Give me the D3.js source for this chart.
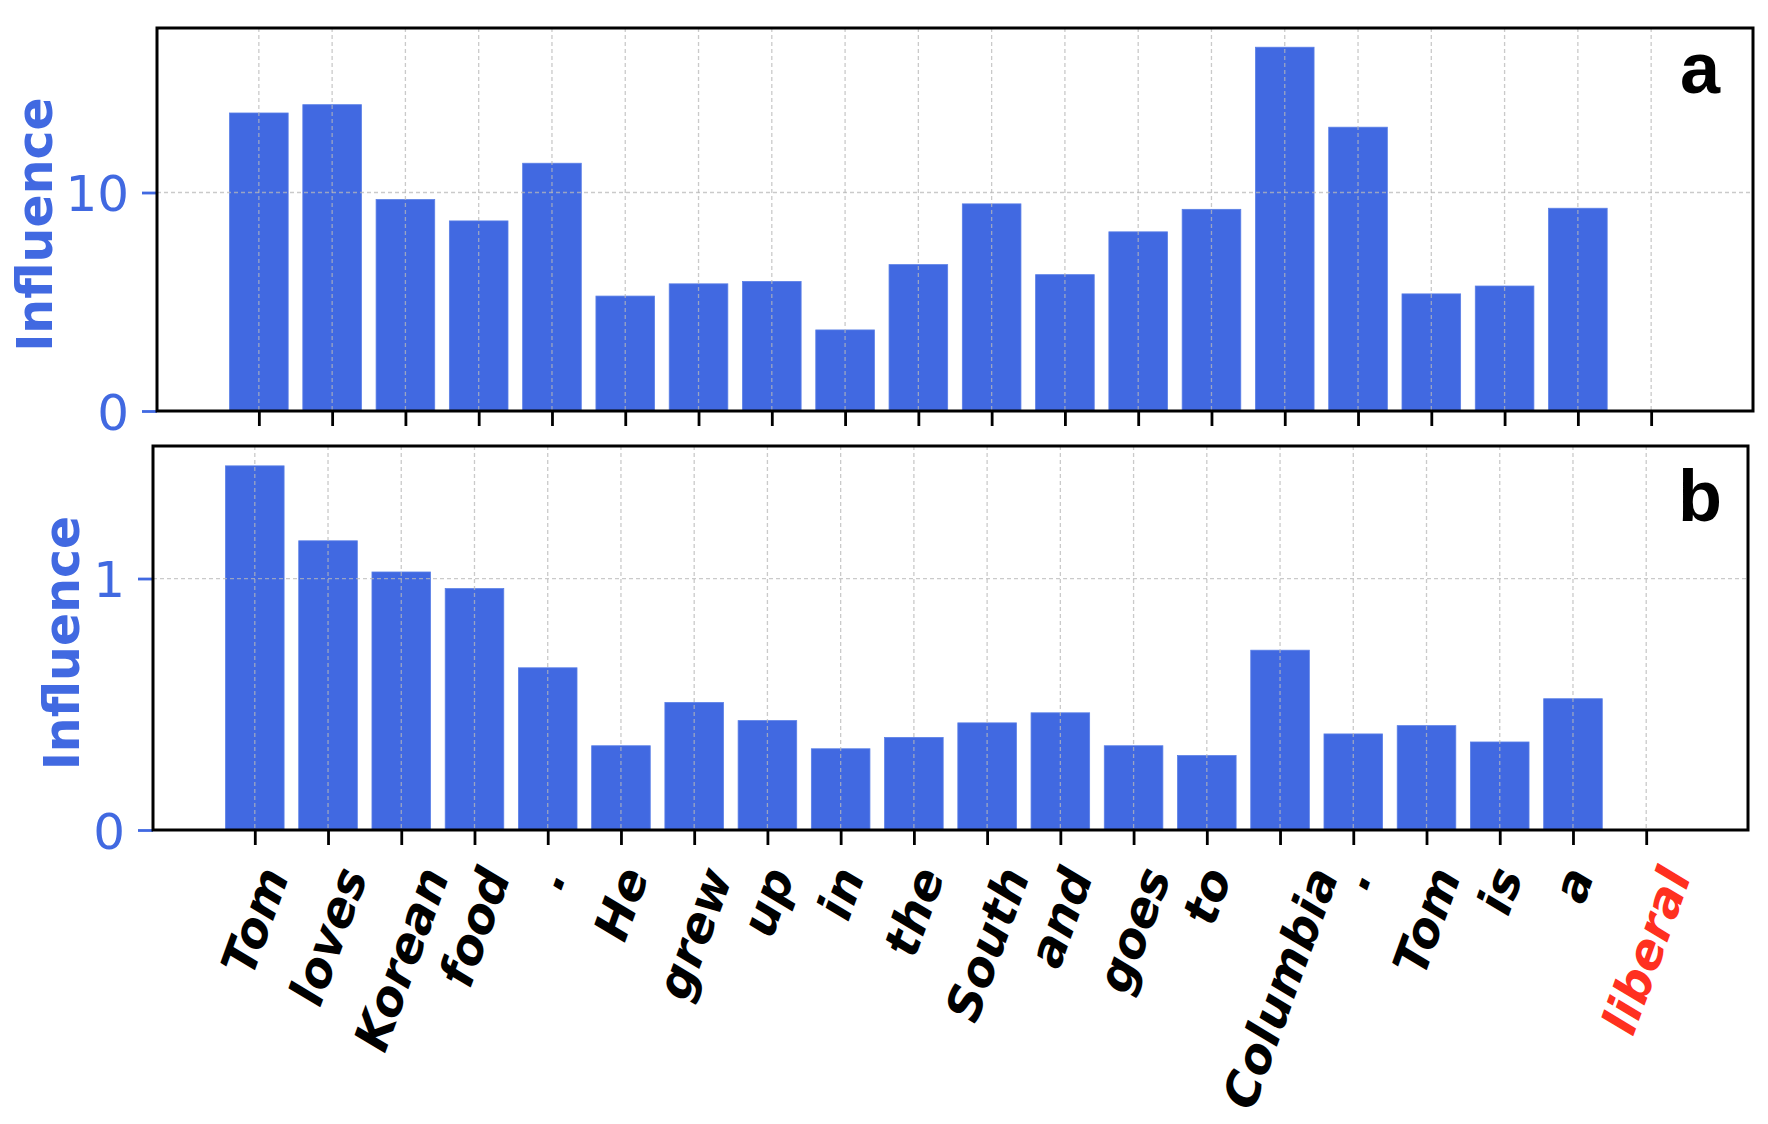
<!DOCTYPE html>
<html><head><meta charset="utf-8">
<script src="https://cdn.jsdelivr.net/npm/d3@7"></script>
<style>body{margin:0;background:#fff}svg{display:block}</style>
</head><body>
<svg id="c" width="1768" height="1124"></svg>
<script>
const tokens = ["Tom","loves","Korean","food",".","He","grew","up","in","the","South","and","goes","to","Columbia",".","Tom","is","a","liberal"];
const influenceA = [13.64,14.02,9.68,8.70,11.34,5.26,5.82,5.93,3.71,6.70,9.48,6.24,8.20,9.23,16.65,12.99,5.36,5.72,9.28];
const influenceB = [1.448,1.150,1.026,0.960,0.645,0.335,0.507,0.435,0.323,0.368,0.426,0.466,0.335,0.296,0.715,0.382,0.415,0.350,0.522];
const yTicksA = [0,10];
const yTicksB = [0,1];
const yMaxA = 17.53;
const yMaxB = 1.527;
const panelLetters = ["a","b"];
const yLabel = "Influence";
const targetToken = "liberal";

const BLUE = "#4169E1";
const svg = d3.select("#c");

const panels = [
  {vals: influenceA, ticks: yTicksA, ymax: yMaxA, letter: panelLetters[0], left:157, right:1753, top:28, bottom:411, labelX:34, showX:false, letterX:1720, letterY:93},
  {vals: influenceB, ticks: yTicksB, ymax: yMaxB, letter: panelLetters[1], left:153, right:1748, top:446, bottom:830, labelX:61, showX:true, letterX:1722, letterY:521}
];

panels.forEach(p => {
  const x = d3.scaleLinear().domain([-1.39, tokens.length - 1 + 1.39]).range([p.left, p.right]);
  const y = d3.scaleLinear().domain([0, p.ymax]).range([p.bottom, p.top]);
  const g = svg.append("g");
  const idx = d3.range(tokens.length);

  const bw = x(0.8) - x(0);
  g.selectAll("rect.bar").data(p.vals).join("rect")
    .attr("class","bar")
    .attr("x",(d,i)=>x(i)-bw/2)
    .attr("width",bw)
    .attr("y",d=>y(d))
    .attr("height",d=>y(0)-y(d))
    .attr("fill",BLUE)
    .attr("stroke","#5a7fe6").attr("stroke-width",0.8);

  g.selectAll("line.gx").data(idx).join("line")
    .attr("x1",i=>x(i)).attr("x2",i=>x(i))
    .attr("y1",p.top).attr("y2",p.bottom)
    .attr("stroke","#b8b8b8").attr("stroke-opacity",0.75).attr("stroke-width",1.3).attr("stroke-dasharray","4,3");
  g.selectAll("line.gy").data(p.ticks).join("line")
    .attr("x1",p.left).attr("x2",p.right)
    .attr("y1",d=>y(d)).attr("y2",d=>y(d))
    .attr("stroke","#b8b8b8").attr("stroke-opacity",0.75).attr("stroke-width",1.3).attr("stroke-dasharray","4,3");

  const xa = g.append("g").attr("transform",`translate(0,${p.bottom})`)
    .call(d3.axisBottom(x).tickValues(idx).tickFormat("").tickSize(15).tickSizeOuter(0));
  xa.select(".domain").remove();
  xa.selectAll(".tick line").attr("stroke","#000").attr("stroke-width",2.8);

  const ya = g.append("g").attr("transform",`translate(${p.left},0)`)
    .call(d3.axisLeft(y).tickValues(p.ticks).tickFormat(d3.format("d")).tickSize(15).tickPadding(13).tickSizeOuter(0));
  ya.select(".domain").remove();
  ya.selectAll(".tick line").attr("stroke",BLUE).attr("stroke-width",2.8);
  ya.selectAll(".tick text").attr("fill",BLUE).attr("font-family","DejaVu Sans").attr("font-size",50).attr("dy","0.36em");

  g.append("rect").attr("x",p.left).attr("y",p.top).attr("width",p.right-p.left).attr("height",p.bottom-p.top)
    .attr("fill","none").attr("stroke","#000").attr("stroke-width",3);

  g.append("text").attr("transform",`translate(${p.labelX+18},${(p.top+p.bottom)/2 + 5}) rotate(-90)`)
    .attr("text-anchor","middle").attr("font-family","DejaVu Sans").attr("font-weight","bold")
    .attr("font-size",49).attr("fill",BLUE).text(yLabel);

  g.append("text").attr("x",p.letterX).attr("y",p.letterY).attr("text-anchor","end")
    .attr("font-family","Liberation Sans, Arial, sans-serif").attr("font-weight","bold").attr("font-size",72)
    .attr("fill","#000").text(p.letter);

  if (p.showX) {
    const targetTop = 860;
    idx.forEach(i => {
      const tx = x(i), ty = p.bottom + 40;
      const t = g.append("text")
        .attr("transform",`translate(${tx},${ty}) rotate(-70)`)
        .attr("text-anchor","middle").attr("dy","0.35em")
        .attr("font-family","DejaVu Sans").attr("font-weight","bold").attr("font-style","italic")
        .attr("font-size",48)
        .attr("fill", tokens[i] === targetToken ? "#ff3020" : "#000")
        .text(tokens[i]);
      const r = t.node().getBoundingClientRect();
      const cx = (r.left + r.right)/2;
      const nx = tx + (tx - cx), ny = ty + (targetTop - r.top);
      t.attr("transform",`translate(${nx},${ny}) rotate(-70)`);
    });
  }
});
</script>
</body></html>
